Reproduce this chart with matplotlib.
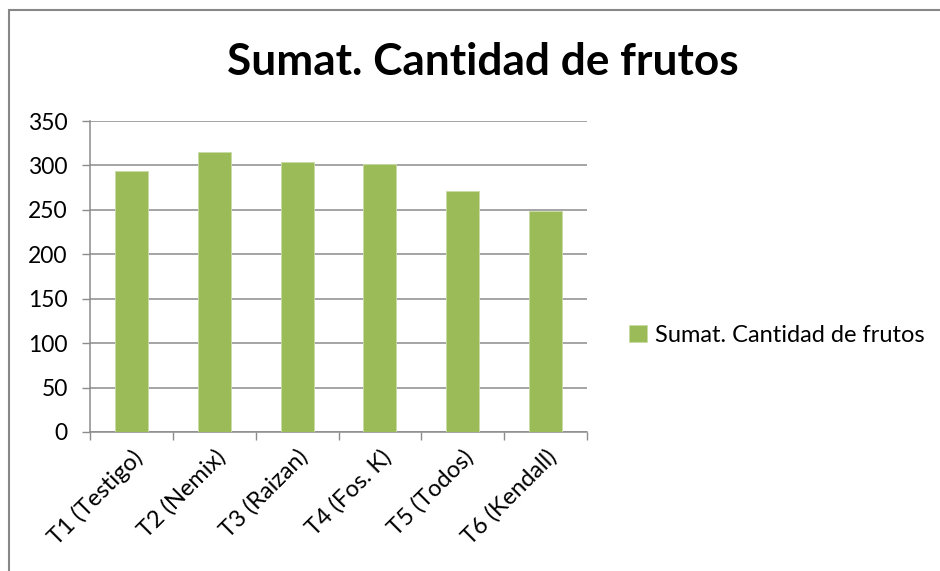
import matplotlib
matplotlib.use("Agg")
import matplotlib.pyplot as plt
from matplotlib.patches import Rectangle
import numpy as np

categories = ["T1 (Testigo)", "T2 (Nemix)", "T3 (Raizan)", "T4 (Fos. K)", "T5 (Todos)", "T6 (Kendall)"]
values = [294, 315, 304, 302, 271, 249]
series_name = "Sumat. Cantidad de frutos"
title = "Sumat. Cantidad de frutos"
yticks = [0, 50, 100, 150, 200, 250, 300, 350]

plt.rcParams['font.family'] = ['Lato', 'DejaVu Sans']

W, H = 940, 571
fig = plt.figure(figsize=(W/100, H/100), dpi=100)
fig.patch.set_facecolor("white")

# outer chart border
fig.add_artist(Rectangle((9/W, -0.05), 1.2, (H-10)/H + 0.05, transform=fig.transFigure,
                         fill=False, edgecolor="#878787", linewidth=1.5))

left, right, top, bottom = 90, 587, 121, 432
ax = fig.add_axes([left/W, 1-bottom/H, (right-left)/W, (bottom-top)/H])
x = np.arange(len(categories))
ax.bar(x, values, width=0.4, color="#9BBB59", edgecolor="#C9DCA6", linewidth=0.6,
       label=series_name, zorder=3)
ax.set_xlim(-0.5, len(categories)-0.5)
ax.set_ylim(0, 350)
ax.set_yticks(yticks)
ax.set_yticklabels([str(t) for t in yticks], fontsize=16.5)
ax.yaxis.grid(True, color="#8C8C8C", linewidth=1.1, zorder=0)
ax.set_xticks(x)
ax.set_xticklabels(categories, rotation=45, ha="right", rotation_mode="anchor", fontsize=17)
ax.set_xticks(np.arange(-0.5, len(categories)), minor=True)
ax.tick_params(axis="x", which="major", length=0, pad=10)
ax.tick_params(axis="x", which="minor", length=6, color="#8C8C8C", width=1)
ax.tick_params(axis="y", length=6, color="#8C8C8C", width=1, pad=10)
for s in ["top", "right"]:
    ax.spines[s].set_visible(False)
for s in ["left", "bottom"]:
    ax.spines[s].set_color("#8C8C8C")
    ax.spines[s].set_linewidth(1.1)

fig.text(483/W, 1-62/H, title, ha="center", va="center", fontsize=31.8, fontweight="bold")

leg = fig.legend(loc="center left", bbox_to_anchor=(608/W, 1-335/H), frameon=False,
                 fontsize=17, handlelength=0.75, handleheight=0.75, handletextpad=0.35)

fig.savefig("out.png", dpi=100, facecolor="white")
